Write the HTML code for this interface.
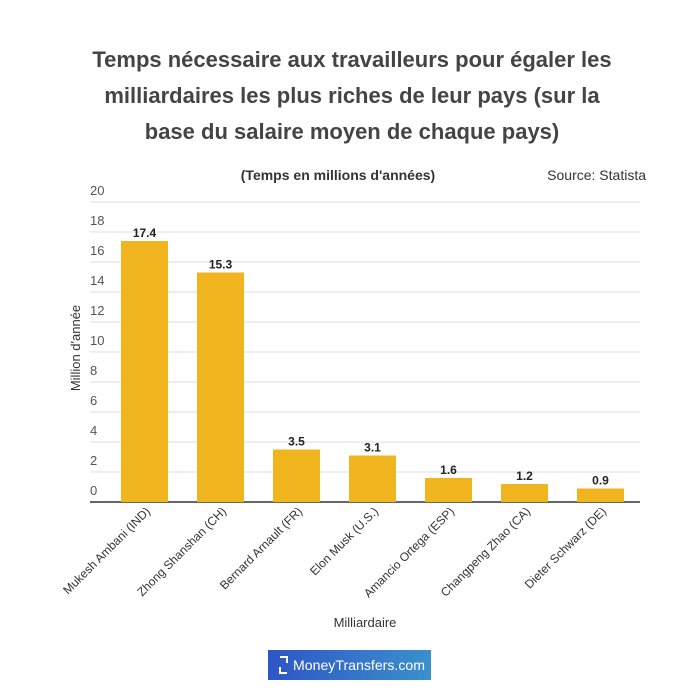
<!DOCTYPE html>
<html><head><meta charset="utf-8"><style>
body{margin:0;background:#fff;font-family:"Liberation Sans",sans-serif}
svg text{font-family:"Liberation Sans",sans-serif}
</style></head><body>
<svg width="700" height="695">
<defs><linearGradient id="lg" x1="0" x2="1"><stop offset="0" stop-color="#2f55c6"/><stop offset="1" stop-color="#3b90cc"/></linearGradient></defs>
<g font-size="22" font-weight="bold" fill="#444" text-anchor="middle">
<text x="352" y="67">Temps nécessaire aux travailleurs pour égaler les</text>
<text x="352" y="103">milliardaires les plus riches de leur pays (sur la</text>
<text x="352" y="139">base du salaire moyen de chaque pays)</text>
</g>
<text x="338" y="180" font-size="14" font-weight="bold" fill="#333" text-anchor="middle">(Temps en millions d'années)</text>
<text x="646" y="180" font-size="14" fill="#333" text-anchor="end">Source: Statista</text>
<g id="grid"></g><g id="bars"></g>
<text transform="translate(80,348) rotate(-90)" font-size="13" fill="#333" text-anchor="middle">Million d'année</text>
<text x="365" y="627" font-size="13" fill="#333" text-anchor="middle">Milliardaire</text>
<g>
<rect x="268" y="650" width="163" height="30" fill="url(#lg)"/>
<path d="M280 657h7v6M280 667v6h7" stroke="#fff" stroke-width="2" fill="none"/>
<text x="293" y="670" font-size="14" fill="#fff" textLength="132" lengthAdjust="spacingAndGlyphs">MoneyTransfers.com</text>
</g>
</svg>
<script>
const categories=["Mukesh Ambani (IND)","Zhong Shanshan (CH)","Bernard Arnault (FR)","Elon Musk (U.S.)","Amancio Ortega (ESP)","Changpeng Zhao (CA)","Dieter Schwarz (DE)"];
const values=[17.4,15.3,3.5,3.1,1.6,1.2,0.9];
const valueLabels=["17.4","15.3","3.5","3.1","1.6","1.2","0.9"];
const yTicks=[0,2,4,6,8,10,12,14,16,18,20];
const NS="http://www.w3.org/2000/svg";
const y=v=>502-v*15;
const xb=i=>105+i*76;
const grid=document.getElementById('grid'),bars=document.getElementById('bars');
function mk(tag,attrs,parent,txt){const e=document.createElementNS(NS,tag);for(const k in attrs)e.setAttribute(k,attrs[k]);if(txt!=null)e.textContent=txt;parent.appendChild(e);return e;}
yTicks.forEach(t=>{
 const l=mk('line',{x1:90,x2:640,y1:y(t),y2:y(t),stroke:t===0?'#333':'#ddd','stroke-width':t===0?1.5:1},grid);
 
 
 const tx=mk('text',{x:90,y:y(t)-7,'font-size':13,fill:'#555'},grid,String(t));
 
 
});
categories.forEach((c,i)=>{
 const x=xb(i)+16;
 const r=mk('rect',{x:x,y:y(values[i]),width:47,height:values[i]*15,fill:'#f0b51e'},bars);
 
 
 const v=mk('text',{x:x+23.5,y:y(values[i])-4,'font-size':12,'font-weight':'bold',fill:'#222','text-anchor':'middle'},bars,valueLabels[i]);
 
 
 const cl=mk('text',{transform:`translate(${x+30},512) rotate(-45)`,'font-size':12,fill:'#333','text-anchor':'end'},bars,c);
 
 
});
</script>
</body></html>
